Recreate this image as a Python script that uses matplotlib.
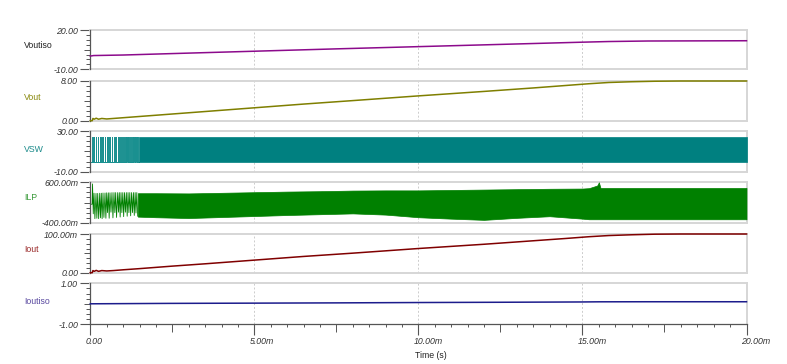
import numpy as np
import matplotlib
matplotlib.use('Agg')
import matplotlib.pyplot as plt
from matplotlib.transforms import ScaledTranslation

plt.rcParams['font.family'] = ['Liberation Sans', 'DejaVu Sans']

# ---------------- data (time in ms) ----------------
t_voutiso = [0, 0.1, 1, 2.5, 5, 7.5, 10, 12.5, 15, 15.8, 17, 20]
voutiso = [0.1, 0.5, 0.9, 2.0, 3.8, 5.6, 7.3, 9.0, 10.7, 11.2, 11.6, 11.8]

t_vout = [0, 0.06, 0.08, 0.12, 0.18, 0.25, 0.35, 0.5, 0.7, 1.0, 1.5, 2.5, 3.5,
          5, 6.5, 8, 10, 12, 13.5, 14.5, 15.2, 15.8, 16.5, 17.2, 18, 20]
vout = [0, 0, 0.45, 0.3, 0.5, 0.3, 0.45, 0.35, 0.45, 0.6, 0.85, 1.35, 1.85,
        2.6, 3.35, 4.05, 5.0, 5.9, 6.6, 7.1, 7.45, 7.7, 7.85, 7.95, 8.0, 8.0]

# VSW: individual early pulses (rise time, width), then continuous switching band
vsw_rise = [0.061, 0.113, 0.174, 0.226, 0.287, 0.335, 0.387, 0.448, 0.500, 0.549,
            0.600, 0.661, 0.722, 0.774, 0.835, 0.884, 0.936, 0.991, 1.043, 1.098,
            1.150, 1.204, 1.259, 1.314, 1.366, 1.418]
vsw_width = [0.008, 0.008, 0.009, 0.009, 0.010, 0.010, 0.011, 0.011, 0.012, 0.012,
             0.014, 0.015, 0.017, 0.019, 0.021, 0.025, 0.028, 0.031, 0.034, 0.037,
             0.039, 0.041, 0.043, 0.045, 0.047, 0.049]
vsw_low = 0.0
vsw_high = 24.5
vsw_band_t = [1.47, 20.0]

# ILP (mA): early ringing, then switching band envelope
ilp_early_t = [0.0, 0.055, 0.068, 0.09, 0.113, 0.14, 0.174, 0.2, 0.226, 0.255,
               0.287, 0.31, 0.335, 0.36, 0.387, 0.415, 0.448, 0.475, 0.5, 0.525,
               0.549, 0.575, 0.6, 0.63, 0.661, 0.69, 0.722, 0.748, 0.774, 0.8,
               0.835, 0.86, 0.884, 0.91, 0.936, 0.963, 0.991, 1.017, 1.043, 1.07,
               1.098, 1.124, 1.15, 1.177, 1.204, 1.23, 1.259, 1.286, 1.314, 1.34,
               1.366, 1.392, 1.418, 1.445]
ilp_early = [57, 57, 560, -180, 330, -300, 325, -290, 325, -300,
             330, -280, 330, -300, 335, -270, 335, -290, 340, -150,
             340, -290, 340, -140, 345, -280, 345, -150, 345, -270,
             345, -140, 345, -260, 345, -150, 345, -250, 345, -140,
             345, -240, 345, -150, 345, -230, 345, -150, 345, -220,
             345, -160, 345, -240]
ilp_band_t = [1.45, 2, 3, 4, 5, 6, 7, 8, 9, 10, 11, 12, 13, 14, 15, 15.2,
              15.45, 15.5, 15.55, 16, 17, 18, 19, 20]
ilp_hi = [330, 330, 325, 340, 355, 370, 380, 395, 400, 400, 410, 420, 430, 440,
          445, 455, 520, 600, 460, 460, 460, 460, 460, 460]
ilp_lo = [-250, -265, -285, -260, -235, -210, -190, -170, -200, -265, -300, -330,
          -280, -240, -300, -315, -315, -315, -315, -315, -315, -315, -315, -315]

t_iout = t_vout
iout = [0, 0, 5.5, 3.5, 6, 3.5, 5.5, 4.5, 5.5, 7.5, 10.5, 17, 23,
        32.5, 42, 50.5, 62.5, 73.5, 82.5, 88.5, 93, 96, 98, 99.5, 100, 100]

t_ioutiso = [0, 2.4, 5, 7.5, 10, 12.5, 15, 15.5, 17, 20]
ioutiso = [0.0, 0.02, 0.032, 0.045, 0.062, 0.075, 0.09, 0.097, 0.1, 0.1]

names = ['Voutiso', 'Vout', 'VSW', 'ILP', 'Iout', 'Ioutiso']
name_colors = ['#222222', '#8a8a10', '#1a8a8a', '#3a9a3a', '#9a2a2a', '#5a4aa0']
ylims = [(-10, 20), (0, 8), (-10, 30), (-400, 600), (0, 100), (-1, 1)]
ytick_labels = [('-10.00', '20.00'), ('0.00', '8.00'), ('-10.00', '30.00'),
                ('-400.00m', '600.00m'), ('0.00', '100.00m'), ('-1.00', '1.00')]
xticks = [0, 5, 10, 15, 20]
xtick_labels = ['0.00', '5.00m', '10.00m', '15.00m', '20.00m']

# ---------------- layout ----------------
W, H = 787, 364
fig = plt.figure(figsize=(W / 100, H / 100), dpi=100)
x0, x1 = 90.3, 746.5
tops = [30, 81, 131, 182.3, 234, 283.3]
bots = [69.3, 120.7, 171.7, 222.7, 272.7, 324.3]
label_y = [46, 97, 149, 198, 249, 301]

dark = '#555555'
light = '#d6d6d6'
axes = []
for i in range(6):
    ax = fig.add_axes([x0 / W, 1 - bots[i] / H, (x1 - x0) / W, (bots[i] - tops[i]) / H],
                      sharex=axes[0] if axes else None)
    axes.append(ax)
    lo, hi = ylims[i]
    ax.set_xlim(0, 20)
    ax.set_ylim(lo, hi)
    ax.set_axisbelow(True)
    for s in ['top', 'right', 'bottom']:
        ax.spines[s].set_color(light)
        ax.spines[s].set_linewidth(1.4)
        ax.spines[s].set_zorder(0.6)
    ax.spines['left'].set_color(dark)
    ax.spines['left'].set_linewidth(0.9)
    ax.set_xticks(xticks)
    ax.grid(axis='x', color='#cccccc', ls=(0, (2, 2)), lw=0.7)
    ax.set_yticks([lo, hi], labels=list(ytick_labels[i]))
    step = (hi - lo) / 8
    ax.set_yticks([lo + k * step for k in range(1, 8) if k != 4], minor=True)
    ax.tick_params(axis='y', which='major', length=7.2, width=0.8, color=dark,
                   labelsize=6.3, pad=1.5, labelcolor='#333333')
    ax.tick_params(axis='y', which='minor', length=2.8, width=0.7, color=dark)
    for lab in ax.get_yticklabels():
        lab.set_fontstyle('italic')
    sec = ax.secondary_yaxis('left')
    sec.set_yticks([(lo + hi) / 2], labels=[''])
    sec.tick_params(length=4.3, width=0.7, color=dark)
    sec.spines['left'].set_visible(False)
    if i < 5:
        ax.tick_params(axis='x', which='both', length=0, labelbottom=False)
    fig.text(24 / W, 1 - label_y[i] / H, names[i], color=name_colors[i],
             fontsize=6.3, ha='left', va='center')

# bottom axis styling
axb = axes[5]
axb.spines['bottom'].set_color(dark)
axb.spines['bottom'].set_linewidth(0.9)
axb.spines['bottom'].set_zorder(2.5)
axb.set_xticks(xticks, labels=xtick_labels)
axb.set_xticks([k * 0.5 for k in range(41) if (k * 0.5) % 2.5 != 0], minor=True)
axb.tick_params(axis='x', which='major', length=7.9, width=0.8, color=dark,
                labelsize=6.3, pad=1.5, labelcolor='#333333')
axb.tick_params(axis='x', which='minor', length=2.4, width=0.7, color=dark)
off = ScaledTranslation(-5 / 100, 0, fig.dpi_scale_trans)
for lab in axb.get_xticklabels():
    lab.set_fontstyle('italic')
    lab.set_horizontalalignment('left')
    lab.set_transform(lab.get_transform() + off)
secx = axb.secondary_xaxis('bottom')
secx.set_xticks([2.5, 7.5, 12.5, 17.5], labels=['', '', '', ''])
secx.tick_params(length=5.4, width=0.7, color=dark)
secx.spines['bottom'].set_visible(False)
fig.text(431 / W, 1 - 355 / H, 'Time (s)', fontsize=6.3, color='#222222',
         ha='center', va='center')

# ---------------- traces ----------------
axes[0].plot(t_voutiso, voutiso, color='#8c0a8c', lw=1.1, clip_on=False, zorder=3)
axes[1].plot(t_vout, vout, color='#7f7f00', lw=1.1, clip_on=False, zorder=3)

# VSW
teal = '#008080'
vt, vv = [0.0], [vsw_low]
for r, w in zip(vsw_rise, vsw_width):
    vt += [r, r, r + w, r + w]
    vv += [vsw_low, vsw_high, vsw_high, vsw_low]
vt.append(vsw_band_t[0])
vv.append(vsw_low)
axes[2].fill_between(vt, vsw_low, vv, color='#1a9090', lw=0.5, edgecolor='#1a9090', zorder=2)
axes[2].plot(vt, vv, color='#1a9090', lw=0.6, zorder=2)
axes[2].fill_between(vsw_band_t, [vsw_low, vsw_low], [vsw_high, vsw_high],
                     color=teal, lw=0.5, edgecolor=teal, zorder=2)

# ILP
green = '#008000'
axes[3].plot(ilp_early_t, ilp_early, color=green, lw=0.6, zorder=2)
axes[3].fill_between(ilp_band_t, ilp_lo, ilp_hi, color=green, lw=0.5, edgecolor=green, zorder=2)

axes[4].plot(t_iout, iout, color='#800000', lw=1.1, clip_on=False, zorder=3)
axes[5].plot(t_ioutiso, ioutiso, color='#1c1c8c', lw=1.1, clip_on=False, zorder=3)

fig.savefig('out.png', dpi=100)
